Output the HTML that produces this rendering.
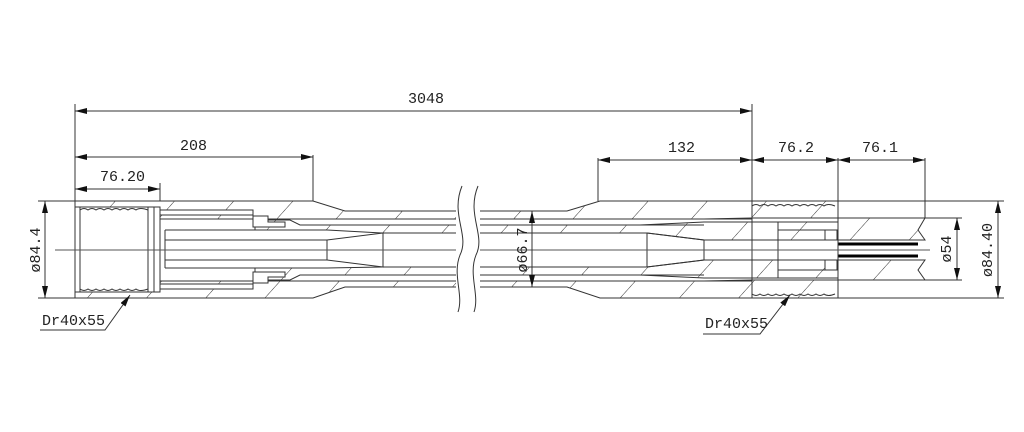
<!DOCTYPE html>
<html><head><meta charset="utf-8"><style>
html,body{margin:0;padding:0;background:#fff;}
svg{display:block;}
text{font-family:"Liberation Mono","DejaVu Sans Mono",monospace;font-size:15px;fill:#222;}
</style></head><body>
<svg width="1024" height="432" viewBox="0 0 1024 432" xmlns="http://www.w3.org/2000/svg">
<defs>
<pattern id="h" width="44" height="60" patternUnits="userSpaceOnUse" patternTransform="rotate(42)">
<line x1="0" y1="0" x2="0" y2="60" stroke="#333" stroke-width="1"/>
</pattern>
<marker id="a" markerWidth="12" markerHeight="6" refX="12" refY="3" orient="auto-start-reverse" markerUnits="userSpaceOnUse">
<path d="M0,0 L12,3 L0,6 z" fill="#111"/>
</marker>
</defs>
<g stroke="#333" stroke-width="1" fill="none">
<g fill="url(#h)" stroke="#333">
<path d="M75,201 L313,201 L345,211 L567,211 L600,201 L838,201 L838,218 L752,218 L704,219 L160,219 L160,215 L253,215 L253,210 L160,210 L160,207 L75,207 Z"/>
<path d="M75,298 L313,298 L345,287 L567,287 L600,298 L838,298 L838,280 L752,280 L704,281 L160,281 L160,284 L253,284 L253,289 L160,289 L160,292 L75,292 Z"/>
<path d="M165,230 L327,230 L383,233 L647,233 L704,240 L838,240 L838,222 L704,222 L640,225 L300,225 L290,220 L255,220 L255,230 L165,230 Z"/>
<path d="M165,268 L327,268 L383,267 L647,267 L704,260 L838,260 L838,278 L704,278 L640,275 L300,275 L290,280 L255,280 L255,268 Z"/>
<path d="M838,218 L925,218 L918,230 L925,240 L838,240 Z"/>
<path d="M838,280 L925,280 L918,270 L925,260 L838,260 Z"/>
</g>
<line x1="160" y1="219" x2="752" y2="219"/>
<line x1="160" y1="281" x2="752" y2="281"/>
<line x1="300" y1="225" x2="704" y2="225"/>
<line x1="300" y1="275" x2="704" y2="275"/>
<line x1="327" y1="240" x2="327" y2="260"/>
<line x1="165" y1="240" x2="327" y2="240"/>
<line x1="165" y1="260" x2="327" y2="260"/>
<path d="M327,240 L383,233 L383,267 L327,260"/>
<path d="M647,233 L647,267"/>
<path d="M647,233 L704,240 L704,260 L647,267"/>
<line x1="165" y1="230" x2="165" y2="268"/>
<rect x="148" y="207" width="12" height="85" fill="#fff"/>
<line x1="154" y1="207" x2="154" y2="292"/>
<line x1="80" y1="207" x2="80" y2="292"/>
<line x1="75" y1="201" x2="75" y2="298"/>
<path d="M80,210 Q84,207 88,210 Q92,207 96,210 Q100,207 104,210 Q108,207 112,210 Q116,207 120,210 Q124,207 128,210 Q132,207 136,210 Q140,207 148,210"/>
<path d="M80,289 Q84,292 88,289 Q92,292 96,289 Q100,292 104,289 Q108,292 112,289 Q116,292 120,289 Q124,292 128,289 Q132,292 136,289 Q140,292 148,289"/>
<path d="M253,216 L268,216 L268,222 L285,222 L285,227 L253,227 Z" fill="#fff"/>
<path d="M253,283 L268,283 L268,277 L285,277 L285,272 L253,272 Z" fill="#fff"/>
<path d="M752,206 Q756,203 760,206 Q764,203 768,206 Q772,203 776,206 Q780,203 784,206 Q788,203 792,206 Q796,203 800,206 Q804,203 808,206 Q812,203 816,206 Q820,203 824,206 Q828,203 835,206"/>
<path d="M752,294 Q756,297 760,294 Q764,297 768,294 Q772,297 776,294 Q780,297 784,294 Q788,297 792,294 Q796,297 800,294 Q804,297 808,294 Q812,297 816,294 Q820,297 824,294 Q828,297 835,294"/>
<line x1="752" y1="201" x2="752" y2="298"/>
<line x1="778" y1="222" x2="778" y2="278"/>
<line x1="778" y1="230" x2="838" y2="230"/>
<line x1="778" y1="270" x2="838" y2="270"/>
<rect x="825" y="230" width="12" height="10" fill="#fff"/>
<rect x="825" y="260" width="12" height="10" fill="#fff"/>
<line x1="838" y1="244" x2="918" y2="244" stroke="#000" stroke-width="3"/>
<line x1="838" y1="256" x2="918" y2="256" stroke="#000" stroke-width="3"/>
<line x1="838" y1="201" x2="838" y2="298"/>
<line x1="55" y1="250" x2="930" y2="250" stroke="#555"/>
<rect x="456" y="195" width="24" height="110" fill="#fff" stroke="none"/>
<path d="M462,186 C450,215 470,235 460,255 C452,275 464,295 458,312"/>
<path d="M478,186 C466,215 486,235 476,255 C468,275 480,295 474,312"/>
<line x1="75" y1="104" x2="75" y2="201"/>
<line x1="752" y1="104" x2="752" y2="201"/>
<line x1="313" y1="155" x2="313" y2="201"/>
<line x1="160" y1="183" x2="160" y2="201"/>
<line x1="598" y1="158" x2="598" y2="201"/>
<line x1="838" y1="158" x2="838" y2="201"/>
<line x1="925" y1="158" x2="925" y2="218"/>
<line x1="38" y1="201" x2="75" y2="201"/>
<line x1="38" y1="298" x2="75" y2="298"/>
<line x1="838" y1="201" x2="1004" y2="201"/>
<line x1="838" y1="298" x2="1004" y2="298"/>
<line x1="925" y1="218" x2="962" y2="218"/>
<line x1="925" y1="280" x2="962" y2="280"/>
<line x1="75" y1="111" x2="752" y2="111" marker-start="url(#a)" marker-end="url(#a)"/>
<line x1="75" y1="157" x2="313" y2="157" marker-start="url(#a)" marker-end="url(#a)"/>
<line x1="75" y1="189" x2="160" y2="189" marker-start="url(#a)" marker-end="url(#a)"/>
<line x1="598" y1="160" x2="752" y2="160" marker-start="url(#a)" marker-end="url(#a)"/>
<line x1="752" y1="160" x2="838" y2="160" marker-start="url(#a)" marker-end="url(#a)"/>
<line x1="838" y1="160" x2="925" y2="160" marker-start="url(#a)" marker-end="url(#a)"/>
<line x1="45" y1="201" x2="45" y2="298" marker-start="url(#a)" marker-end="url(#a)"/>
<line x1="532" y1="211" x2="532" y2="287" marker-start="url(#a)" marker-end="url(#a)"/>
<line x1="957" y1="218" x2="957" y2="280" marker-start="url(#a)" marker-end="url(#a)"/>
<line x1="998" y1="201" x2="998" y2="298" marker-start="url(#a)" marker-end="url(#a)"/>
<path d="M40,330 L105,330 L130,295" marker-end="url(#a)"/>
<path d="M703,334 L760,334 L790,295" marker-end="url(#a)"/>
</g>
<text x="408" y="103">3048</text>
<text x="180" y="150">208</text>
<text x="100" y="181">76.20</text>
<text x="668" y="152">132</text>
<text x="778" y="152">76.2</text>
<text x="862" y="152">76.1</text>
<text x="42" y="325">Dr40x55</text>
<text x="705" y="328">Dr40x55</text>
<text transform="translate(40,250) rotate(-90)" text-anchor="middle">ø84.4</text>
<text transform="translate(527,250) rotate(-90)" text-anchor="middle">ø66.7</text>
<text transform="translate(951,249) rotate(-90)" text-anchor="middle">ø54</text>
<text transform="translate(992,250) rotate(-90)" text-anchor="middle">ø84.40</text>
</svg>
</body></html>
